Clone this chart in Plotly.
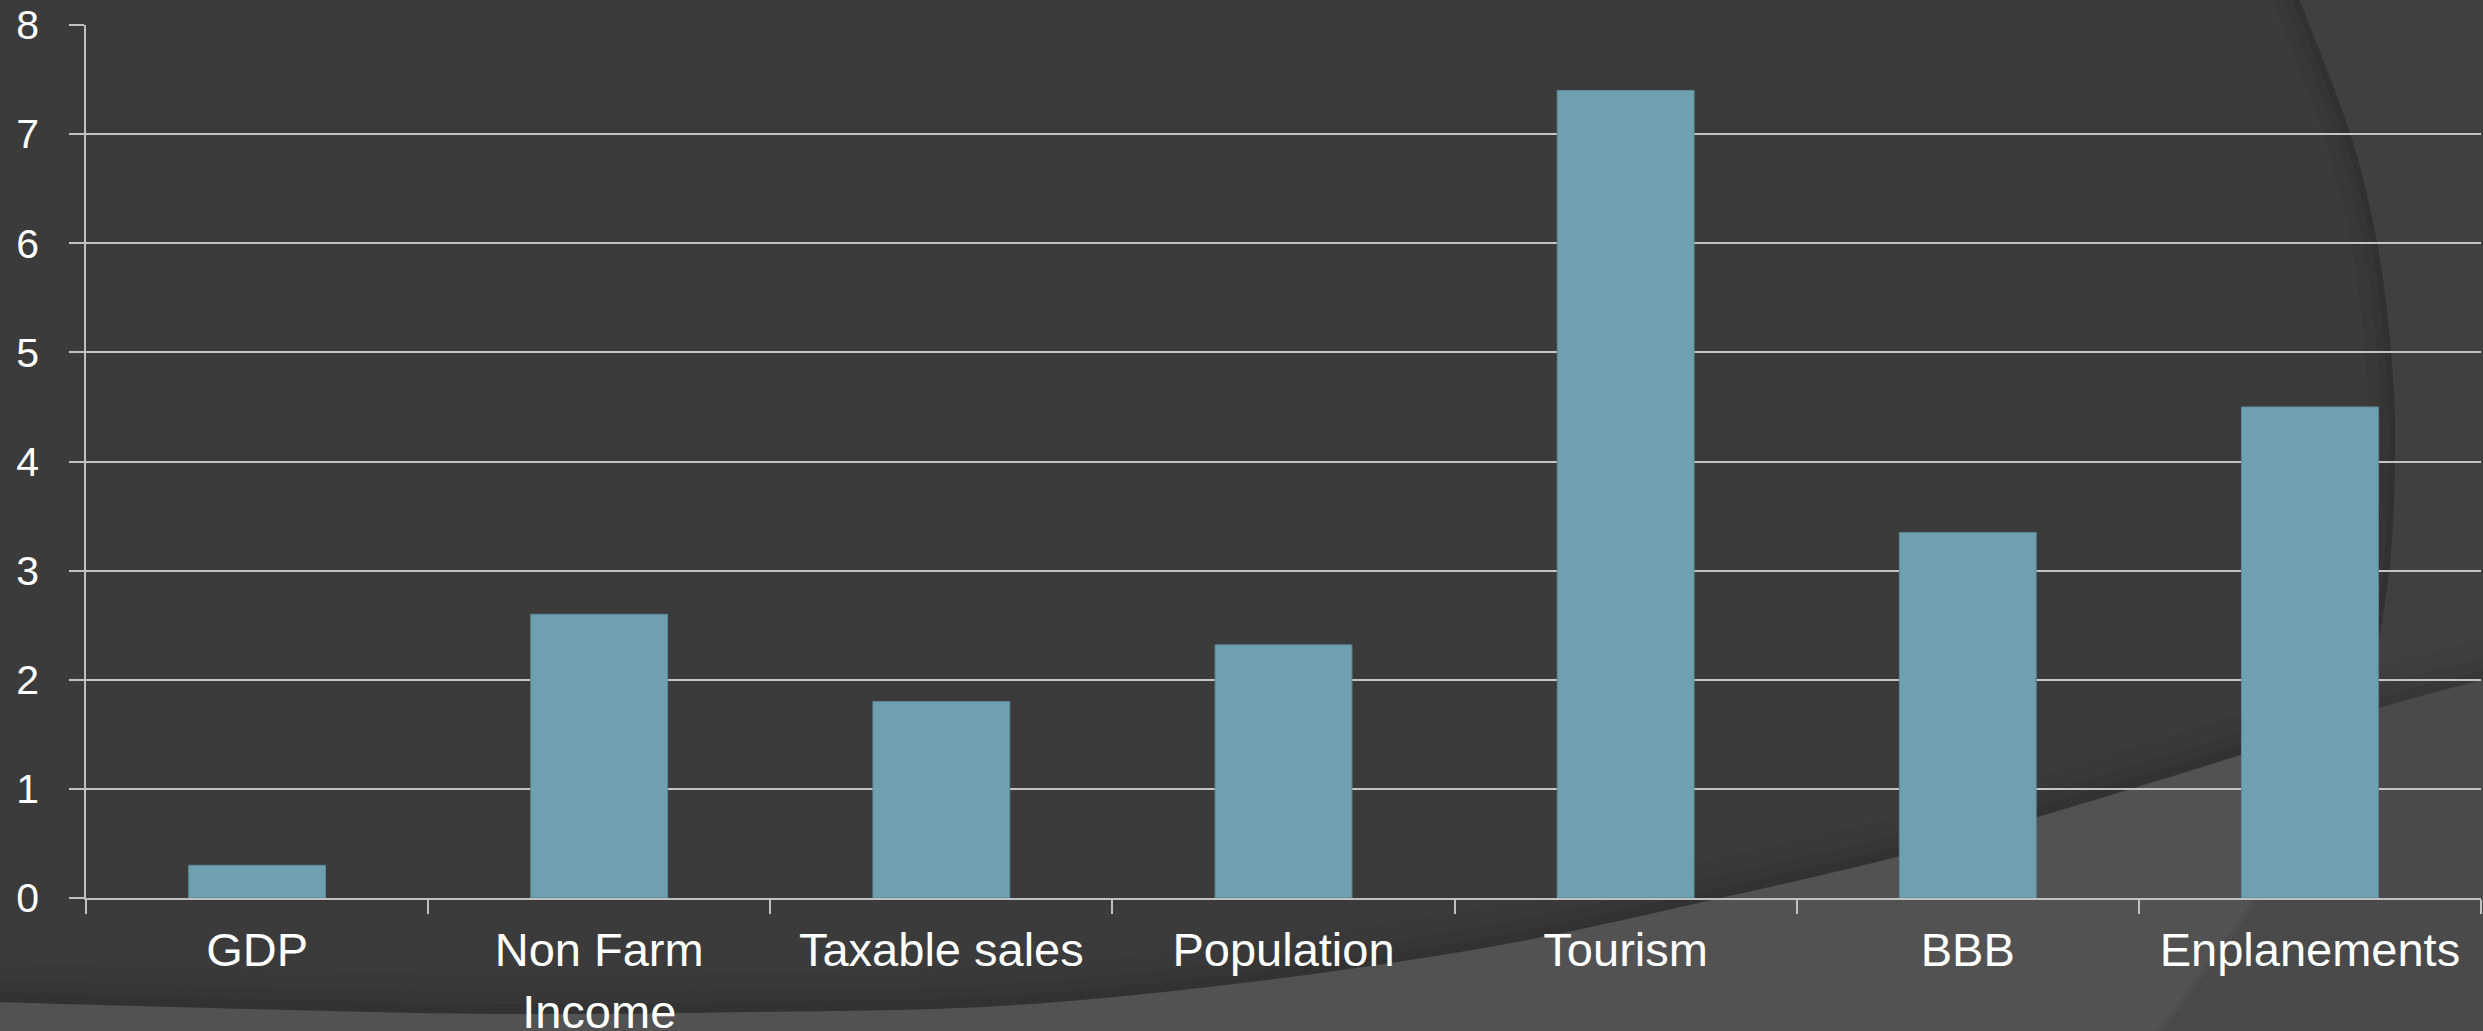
import plotly.graph_objects as go

# ---- data ----
categories = ["GDP", "Non Farm<br>Income", "Taxable sales", "Population", "Tourism", "BBB", "Enplanements"]
values = [0.3, 2.6, 1.8, 2.32, 7.4, 3.35, 4.5]
y_ticks = [0, 1, 2, 3, 4, 5, 6, 7, 8]

W, H = 2483, 1031
L, R, T, B = 86, 2481, 25, 898  # plot area in pixels


def px(x, y):
    return ((x - L) / (R - L), (B - y) / (B - T))


def catmull(points, n=12):
    out = []
    pts = [points[0]] + points + [points[-1]]
    for i in range(1, len(pts) - 2):
        p0, p1, p2, p3 = pts[i - 1], pts[i], pts[i + 1], pts[i + 2]
        for k in range(n):
            t = k / n
            t2, t3 = t * t, t * t * t
            x = 0.5 * ((2 * p1[0]) + (-p0[0] + p2[0]) * t + (2 * p0[0] - 5 * p1[0] + 4 * p2[0] - p3[0]) * t2 + (-p0[0] + 3 * p1[0] - 3 * p2[0] + p3[0]) * t3)
            y = 0.5 * ((2 * p1[1]) + (-p0[1] + p2[1]) * t + (2 * p0[1] - 5 * p1[1] + 4 * p2[1] - p3[1]) * t2 + (-p0[1] + 3 * p1[1] - 3 * p2[1] + p3[1]) * t3)
            out.append((x, y))
    out.append(points[-1])
    return out


def path(points, close=True):
    s = ""
    for i, (x, y) in enumerate(points):
        u, v = px(x, y)
        s += ("M" if i == 0 else "L") + f"{u:.5f},{v:.5f} "
    if close:
        s += "Z"
    return s


# decorative background geometry (pixels)
boundary = [(-5, 1002), (250, 1009), (500, 1014), (750, 1012), (1000, 1006), (1250, 982),
            (1500, 945), (1720, 898), (1900, 856), (2037, 817), (2243, 754), (2380, 708), (2490, 678)]
arc = [(2297, -5), (2350, 134), (2377, 243), (2391, 352), (2395, 450), (2388, 580),
       (2360, 720), (2315, 820), (2260, 900), (2163, 1031), (2140, 1040)]

bnd = catmull(boundary)
arcp = catmull(arc)

shapes = []
# region right of the arc
shapes.append(dict(type="path", xref="paper", yref="paper", layer="below",
                   path=path(arcp + [(2490, 1040), (2490, -5)]),
                   fillcolor="#404040", line=dict(width=0)))
# soft shadow left of arc (only upper part, above the light region)
upper_arc = [p for p in arcp if p[1] <= 740]
for w, a in [(26, 0.035), (14, 0.05), (6, 0.07)]:
    shapes.append(dict(type="path", xref="paper", yref="paper", layer="below",
                       path=path([(x - w / 2, y) for x, y in upper_arc], close=False),
                       fillcolor="rgba(0,0,0,0)", line=dict(color=f"rgba(0,0,0,{a})", width=w)))
# light lower region
shapes.append(dict(type="path", xref="paper", yref="paper", layer="below",
                   path=path(bnd + [(2490, 1040), (-5, 1040)]),
                   fillcolor="#525252", line=dict(width=0)))
# soft shadow above lower region
for w, a in [(40, 0.03), (22, 0.045), (10, 0.06)]:
    shapes.append(dict(type="path", xref="paper", yref="paper", layer="below",
                       path=path([(x, y - w / 2) for x, y in bnd], close=False),
                       fillcolor="rgba(0,0,0,0)", line=dict(color=f"rgba(0,0,0,{a})", width=w)))
# intersection region (right of arc, below boundary)
cpts = [(p[0], p[1]) for p in bnd if p[0] >= 2361] + [(2490, 1040), (2140, 1040)]
cpts += [p for p in reversed(arcp) if p[1] >= 715 and p[1] <= 1040]
shapes.append(dict(type="path", xref="paper", yref="paper", layer="below",
                   path=path(cpts), fillcolor="#4a4a4a", line=dict(width=0)))
# faint arc line through lower region
shapes.append(dict(type="path", xref="paper", yref="paper", layer="below",
                   path=path([(x - 3, y) for x, y in arcp if y >= 700], close=False),
                   fillcolor="rgba(0,0,0,0)", line=dict(color="rgba(0,0,0,0.06)", width=6)))

fig = go.Figure()
fig.add_trace(go.Bar(
    x=categories, y=values, width=0.4,
    marker=dict(color="#6fa0b0", line=dict(color="#5b8a99", width=1)),
    hoverinfo="skip",
))

fig.update_layout(
    width=W, height=H,
    margin=dict(l=L, r=W - R, t=T, b=H - B, pad=0, autoexpand=False),
    paper_bgcolor="#3b3b3b",
    plot_bgcolor="rgba(0,0,0,0)",
    showlegend=False,
    shapes=shapes,
    font=dict(family="Liberation Sans, Arial, sans-serif", color="#ffffff"),
    xaxis=dict(
        range=[-0.5, 6.5], tickson="boundaries", ticks="outside", ticklen=14, tickwidth=1.5,
        tickcolor="#c0c0c0", showline=True, linecolor="#c0c0c0", linewidth=2,
        showgrid=False, zeroline=False, tickfont=dict(size=47, color="#ffffff"),
        ticklabelstandoff=10, automargin=False,
    ),
    yaxis=dict(
        range=[0, 8], tickvals=y_ticks, ticks="outside", ticklen=15, tickwidth=1.5,
        tickcolor="#c0c0c0", showline=True, linecolor="#c0c0c0", linewidth=1.5,
        showgrid=True, gridcolor="#c4c4c4", gridwidth=1.5, zeroline=False,
        tickfont=dict(size=41, color="#ffffff"), ticklabelstandoff=22, automargin=False,
    ),
)

fig.write_html("out.html")
